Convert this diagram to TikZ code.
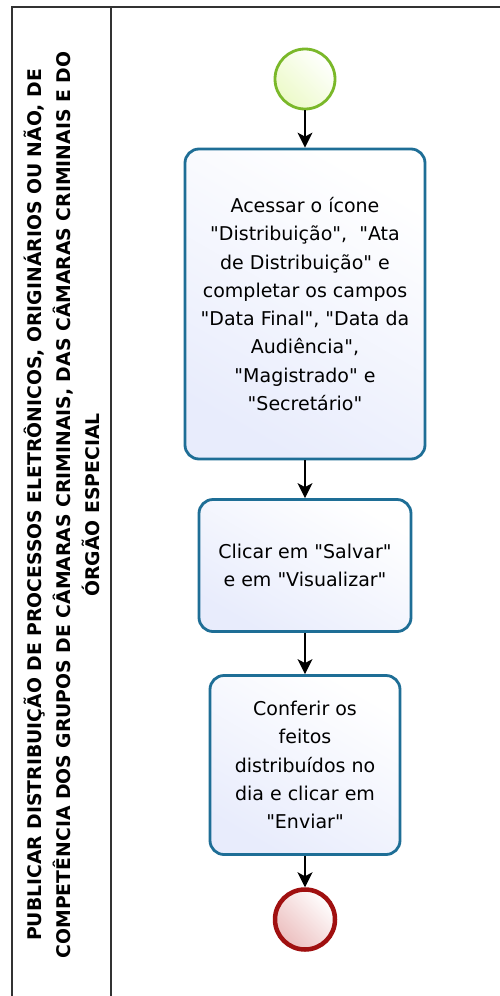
\documentclass[tikz,border=0pt]{standalone}
\usepackage{fontspec}
\setmainfont{DejaVu Sans}
\usetikzlibrary{arrows.meta,shadings}
\newcommand{\qd}{\textquotedbl}
\definecolor{taskborder}{RGB}{30,110,150}
\definecolor{taskfill}{RGB}{232,236,252}
\definecolor{startborder}{RGB}{122,184,41}
\definecolor{startfill}{RGB}{236,250,200}
\definecolor{endborder}{RGB}{160,16,16}
\definecolor{endfill}{RGB}{236,190,190}
\definecolor{poolline}{RGB}{50,50,50}
\tikzset{
  x=1pt, y=-1pt,
  task/.style={draw=taskborder, line width=2.8pt, rounded corners=14pt,
    top color=white, bottom color=taskfill, shading angle=-30, align=center, inner sep=0pt,
    font=\fontsize{19}{28.3}\selectfont},
  startev/.style={circle, draw=startborder, line width=2.8pt, minimum size=60pt, inner sep=0pt,
    left color=white, right color=startfill, shading angle=-45},
  endev/.style={circle, draw=endborder, line width=4.5pt, minimum size=60pt, inner sep=0pt,
    left color=white, right color=endfill, shading angle=-45},
  flow/.style={-{Stealth[length=15pt,width=15pt,inset=4pt]}, line width=1.4pt, black},
  pool/.style={draw=poolline, line width=2pt},
  lanetext/.style={font=\bfseries\fontsize{18.8}{29}\selectfont, align=center, rotate=90}
}
\begin{document}
\begin{tikzpicture}
\useasboundingbox (0,0) rectangle (500,996);
\fill[white] (0,0) rectangle (500,996);
% pool
\draw[pool] (500,7) -- (12,7) -- (12,996);
\draw[pool] (111,7) -- (111,996);
\node[lanetext] (lane) at (62,505) {PUBLICAR DISTRIBUIÇÃO DE PROCESSOS ELETRÔNICOS, ORIGINÁRIOS OU NÃO, DE\\COMPETÊNCIA DOS GRUPOS DE CÂMARAS CRIMINAIS, DAS CÂMARAS CRIMINAIS E DO\\ÓRGÃO ESPECIAL};
% nodes
\node[startev] (start) at (305,79) {};
\node[task, minimum width=240pt, minimum height=310pt] (t1) at (305,304) {Acessar o ícone\\\qd Distribuição\qd,\ \ \qd Ata\\de Distribuição\qd{} e\\completar os campos\\\qd Data Final\qd, \qd Data da\\Audiência\qd,\\\qd Magistrado\qd{} e\\\qd Secretário\qd};
\node[task, minimum width=212pt, minimum height=132pt] (t2) at (305,565.5) {Clicar em \qd Salvar\qd\\e em \qd Visualizar\qd};
\node[task, minimum width=190pt, minimum height=179pt] (t3) at (305,765) {Conferir os\\feitos\\distribuídos no\\dia e clicar em\\\qd Enviar\qd};
\node[endev] (end) at (305,919.5) {};
% flows
\draw[flow] (start) -- (t1);
\draw[flow] (t1) -- (t2);
\draw[flow] (t2) -- (t3);
\draw[flow] (t3) -- (end);
\end{tikzpicture}
\end{document}
